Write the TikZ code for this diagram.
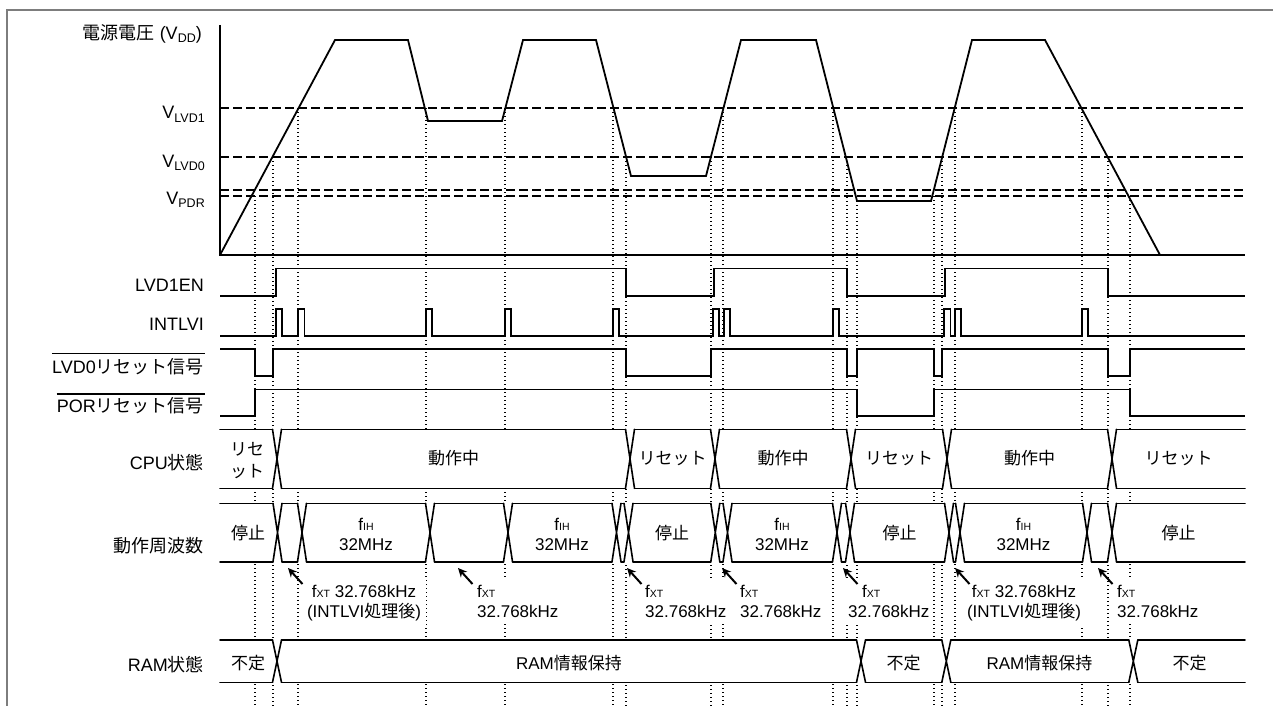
\documentclass[tikz,border=0pt]{standalone}
\usepackage{fontspec}
\setmainfont{Liberation Sans}
\newfontfamily\jp{Noto Sans CJK JP}
\usetikzlibrary{arrows.meta}
\definecolor{framegray}{RGB}{125,125,125}
\newcommand\vsub[1]{\raisebox{-3pt}{\fontsize{12.5}{12.5}\selectfont #1}}
\newcommand\fsub[1]{\raisebox{-0.5pt}{\fontsize{10.5}{10.5}\selectfont #1}}
\def\hh{4.5}
\newcommand\busrow[3]{%
  \fill[white] (220,#1) rectangle (1245,#2);
  \foreach \t [remember=\t as \lt (initially 220)] in {#3,1245} {
    \draw[bus] ({\lt+\hh*(\lt>221)},#1) -- ({\t-\hh*(\t<1244)},#1)
               ({\lt+\hh*(\lt>221)},#2) -- ({\t-\hh*(\t<1244)},#2);
  }
  \foreach \t in {#3} {
    \draw[bus] ({\t-\hh},#1) -- ({\t+\hh},#2) ({\t+\hh},#1) -- ({\t-\hh},#2);
  }
}
\tikzset{
  wave/.style={line width=1.8pt, line join=miter},
  sigl/.style={line width=1.6pt},
  dashl/.style={line width=1.8pt, dash pattern=on 9pt off 4pt},
  dotl/.style={line width=1.2pt, dash pattern=on 1.2pt off 2.8pt},
  bus/.style={line width=1.6pt, line cap=round, line join=round},
  lbl/.style={anchor=base east, inner sep=0pt, font=\fontsize{18}{21}\selectfont},
  bt/.style={anchor=base, inner sep=0pt},
  fnote/.style={fill=white, inner xsep=5pt, inner ysep=5pt},
  arr/.style={line width=2pt, -{Stealth[length=9pt,width=8.5pt]}},
  overl/.style={line width=1.5pt},
  frm/.style={line width=2pt, draw=framegray},
}
\begin{document}
\begin{tikzpicture}[x=1pt,y=-1pt,every node/.style={font=\fontsize{17}{20.5}\selectfont}]
\useasboundingbox (0,0) rectangle (1273,706);
\fill[white] (0,0) rectangle (1273,706);
% frame
\draw[frm] (7,706) -- (7,10) -- (1273,10);
% dotted guide lines
\foreach \x/\y in {255/196, 273/157, 298/108, 426/108, 505/108, 613/108, 626/157, 711/157, 723/108, 833/108, 847/157, 857/201, 934/196, 942/157, 955/108, 1082/108, 1108/157, 1130/196}
  \draw[dotl] (\x,\y) -- (\x,706);
% threshold levels
\foreach \y in {108,157,190,196}
  \draw[dashl] (220,\y) -- (1243,\y);
% axes
\draw[wave] (220,25) -- (220,255) -- (1245,255);
% VDD waveform
\draw[wave] (220,255) -- (335,40) -- (408,40) -- (428,121) -- (502,121) -- (523,40) -- (596,40) -- (631,176) -- (706,176) -- (741,40) -- (816,40) -- (857,201) -- (931,201) -- (972,40) -- (1045,40) -- (1160,255);
% LVD1EN
\draw[sigl] (220,295.7) -| (276,268.3) -| (626,295.7) -| (714,268.3) -| (847,295.7) -| (945,268.3) -| (1108,295.7) -- (1245,295.7);
% INTLVI
\draw[sigl] (220,336) -| (276,309) -| (282,336) -| (298,309) -| (304.5,336) -| (426,309) -| (432,336) -| (505,309) -| (511,336) -| (613,309) -| (619,336) -| (713,309) -| (719,336) -| (724,309) -| (730,336) -| (833,309) -| (839,336) -| (944,309) -| (950.5,336) -| (955,309) -| (961,336) -| (1082,309) -| (1088,336) -- (1245,336);
% LVD0 reset
\draw[sigl] (220,349) -| (255,376) -| (273,349) -| (626,376) -| (711,349) -| (847,376) -| (857,349) -| (934,376) -| (942,349) -| (1108,376) -| (1130,349) -- (1245,349);
% POR reset
\draw[sigl] (220,415.7) -| (255,389.3) -| (857,415.7) -| (934,389.3) -| (1130,415.7) -- (1245,415.7);
% bus rows
\busrow{429.3}{488.3}{277,630,715,851,947,1112}
\busrow{503.3}{561.7}{277.5,302,430,508,616.5,628.5,715.3,727.5,837,850,949,960,1087,1112}
\busrow{640}{682.3}{277,861,946.3,1133.3}
% CPU texts
\node[align=center, inner sep=0pt] (c1) at (247,460.5) {{\jp リセ}\\[1.5pt]{\jp ット}};
\node[bt] (c2) at (453.5,464.8) {\jp 動作中};
\node[bt] (c3) at (672.5,464.8) {\jp リセット};
\node[bt] (c4) at (783,464.8) {\jp 動作中};
\node[bt] (c5) at (899,464.8) {\jp リセット};
\node[bt] (c6) at (1029.5,464.8) {\jp 動作中};
\node[bt] (c7) at (1178.5,464.8) {\jp リセット};
% frequency texts
\node[bt] (f1) at (248,539) {\jp 停止};
\node[anchor=north, align=center, inner sep=0pt] (f2) at (366,517.6) {f\fsub{IH}\\32MHz};
\node[anchor=north, align=center, inner sep=0pt] (f3) at (562,517.6) {f\fsub{IH}\\32MHz};
\node[bt] (f4) at (672,539) {\jp 停止};
\node[anchor=north, align=center, inner sep=0pt] (f5) at (782,517.6) {f\fsub{IH}\\32MHz};
\node[bt] (f6) at (899.5,539) {\jp 停止};
\node[anchor=north, align=center, inner sep=0pt] (f7) at (1023.5,517.6) {f\fsub{IH}\\32MHz};
\node[bt] (f8) at (1178.5,539) {\jp 停止};
% RAM texts
\node[bt] (r1) at (248,669.5) {\jp 不定};
\node[bt] (r2) at (569,669.5) {RAM{\jp 情報保持}};
\node[bt] (r3) at (903.5,669.5) {\jp 不定};
\node[bt] (r4) at (1039.5,669.5) {RAM{\jp 情報保持}};
\node[bt] (r5) at (1189.5,669.5) {\jp 不定};
% fXT notes
\node[fnote, anchor=north, align=center] (n1) at (364,579.6) {f\fsub{XT} 32.768kHz\\(INTLVI{\jp 処理後})};
\node[fnote, anchor=north west, align=left] (n2) at (472,579.6) {f\fsub{XT}\\32.768kHz};
\node[fnote, anchor=north west, align=left] (n3) at (640,579.6) {f\fsub{XT}\\32.768kHz};
\node[fnote, anchor=north west, align=left] (n4) at (735,579.6) {f\fsub{XT}\\32.768kHz};
\node[fnote, anchor=north west, align=left, inner xsep=4pt] (n5) at (844,579.6) {\hspace*{14pt}f\fsub{XT}\\32.768kHz};
\node[fnote, anchor=north, align=center] (n6) at (1024,579.6) {f\fsub{XT} 32.768kHz\\(INTLVI{\jp 処理後})};
\node[fnote, anchor=north west, align=left] (n7) at (1112,579.6) {f\fsub{XT}\\32.768kHz};
% arrows
\foreach \x [count=\i] in {288,458,627,722,843,955,1098} {
  \coordinate (ah\i) at (\x,568);
  \coordinate (at\i) at ({\x+14.5},584);
  \draw[arr] (at\i) -- (ah\i);
}
% left labels
\node[lbl] (vdd) at (202,40) {{\jp 電源電圧} (V\vsub{DD})};
\node[lbl] (vlvd1) at (205,119) {V\vsub{LVD1}};
\node[lbl] (vlvd0) at (205,167.2) {V\vsub{LVD0}};
\node[lbl] (vpdr) at (205,204.5) {V\vsub{PDR}};
\node[lbl] (lvd1en) at (204,291) {LVD1EN};
\node[lbl] (intlvi) at (204,330.5) {INTLVI};
\node[lbl] (lvd0) at (204,373) {LVD0{\jp リセット信号}};
\node[lbl] (por) at (204,412) {POR{\jp リセット信号}};
\node[lbl] (cpu) at (204,469.5) {CPU{\jp 状態}};
\node[lbl] (freq) at (204,552.5) {\jp 動作周波数};
\node[lbl] (ram) at (204,671.5) {RAM{\jp 状態}};
% overlines
\coordinate (ol1) at (0,353.3);
\coordinate (ol2) at (0,394);
\draw[overl] (lvd0.west |- ol1) -- ([xshift=1pt]lvd0.east |- ol1);
\draw[overl] (por.west |- ol2) -- ([xshift=1pt]por.east |- ol2);
\end{tikzpicture}
\end{document}
